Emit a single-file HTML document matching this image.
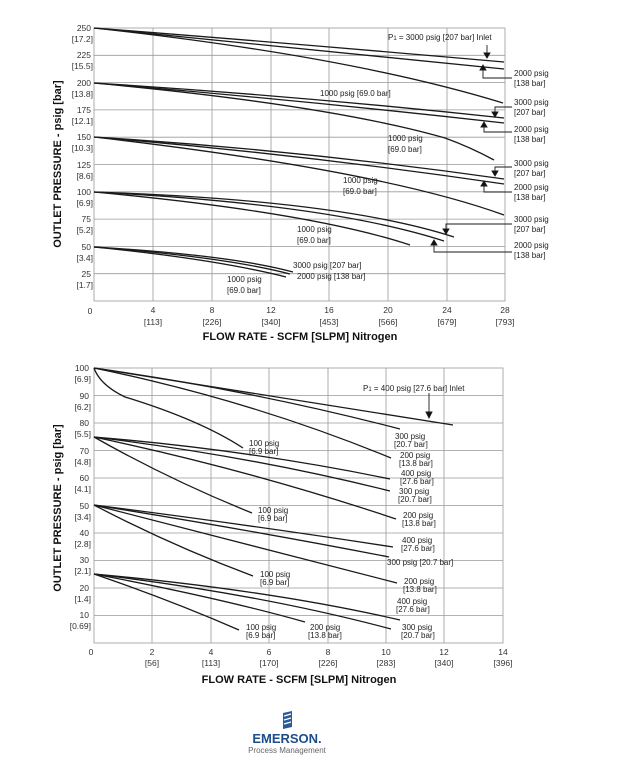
<!DOCTYPE html>
<html><head><style>
html,body{margin:0;padding:0;background:#fff;}
svg{display:block;font-family:"Liberation Sans",Arial,sans-serif;}
.g{stroke:#9a9a9a;stroke-width:0.8;fill:none}
.c{stroke:#1a1a1a;stroke-width:1.3;fill:none}
.a{stroke:#1a1a1a;stroke-width:0.9;fill:none}
.t{font-size:8.5px;fill:#333}
.l{font-size:8px;fill:#222}
.ti{font-size:11px;font-weight:bold;fill:#111}
</style></head><body>
<svg width="628" height="763" viewBox="0 0 628 763">
<defs><marker id="ar" markerWidth="6" markerHeight="6" refX="3" refY="5" orient="auto"><path d="M0,0 L3,6 L6,0 Z" fill="#111" transform="rotate(0)"/></marker></defs>
<!-- Chart 1 grid -->
<g class="g">
<rect x="94" y="28" width="411" height="273"/>
<path d="M153,28V301M212,28V301M271,28V301M329,28V301M388,28V301M447,28V301"/>
<path d="M94,55.3H505M94,82.6H505M94,109.9H505M94,137.2H505M94,164.5H505M94,191.8H505M94,219.1H505M94,246.4H505M94,273.7H505"/>
</g>
<g class="t" text-anchor="end">
<text x="91" y="31">250</text><text x="93" y="42">[17.2]</text>
<text x="91" y="58">225</text><text x="93" y="69">[15.5]</text>
<text x="91" y="86">200</text><text x="93" y="97">[13.8]</text>
<text x="91" y="113">175</text><text x="93" y="124">[12.1]</text>
<text x="91" y="140">150</text><text x="93" y="151">[10.3]</text>
<text x="91" y="168">125</text><text x="93" y="179">[8.6]</text>
<text x="91" y="195">100</text><text x="93" y="206">[6.9]</text>
<text x="91" y="222">75</text><text x="93" y="233">[5.2]</text>
<text x="91" y="250">50</text><text x="93" y="261">[3.4]</text>
<text x="91" y="277">25</text><text x="93" y="288">[1.7]</text>
</g>
<g class="t" text-anchor="middle">
<text x="90" y="314">0</text>
<text x="153" y="313">4</text><text x="153" y="325">[113]</text>
<text x="212" y="313">8</text><text x="212" y="325">[226]</text>
<text x="271" y="313">12</text><text x="271" y="325">[340]</text>
<text x="329" y="313">16</text><text x="329" y="325">[453]</text>
<text x="388" y="313">20</text><text x="388" y="325">[566]</text>
<text x="447" y="313">24</text><text x="447" y="325">[679]</text>
<text x="505" y="313">28</text><text x="505" y="325">[793]</text>
</g>
<text class="ti" x="300" y="340" text-anchor="middle">FLOW RATE - SCFM [SLPM] Nitrogen</text>
<text class="ti" transform="translate(61,164) rotate(-90)" text-anchor="middle">OUTLET PRESSURE - psig [bar]</text>
<!-- Chart 1 curves -->
<g class="c">
<path d="M94,28 Q300,44 504,62"/>
<path d="M94,28 Q300,48 504,69"/>
<path d="M94,28 Q350,56 503,103"/>
<path d="M94,83 Q300,96 504,118"/>
<path d="M94,83 Q300,100 504,123"/>
<path d="M94,83 Q330,105 445,138 Q470,147 494,160"/>
<path d="M94,137 Q300,150 504,179"/>
<path d="M94,137 Q300,154 504,184"/>
<path d="M94,137 Q380,170 504,215"/>
<path d="M94,192 Q340,200 454,237"/>
<path d="M94,192 Q330,204 444,241"/>
<path d="M94,192 Q310,212 410,245"/>
<path d="M94,247 Q230,255 293,272"/>
<path d="M94,247 Q225,257 290,274"/>
<path d="M94,247 Q215,259 286,277"/>
</g>
<g class="a">
<path d="M487,45V57"/><path d="M484,53L487,58L490,53Z" fill="#111"/>
<path d="M512,78H483V66"/><path d="M480,70L483,65L486,70Z" fill="#111"/>
<path d="M512,107H495V117"/><path d="M492,112L495,117L498,112Z" fill="#111"/>
<path d="M512,132H484V122"/><path d="M481,127L484,122L487,127Z" fill="#111"/>
<path d="M512,167H495V176"/><path d="M492,171L495,176L498,171Z" fill="#111"/>
<path d="M512,192H484V181"/><path d="M481,186L484,181L487,186Z" fill="#111"/>
<path d="M512,224H446V234"/><path d="M443,229L446,234L449,229Z" fill="#111"/>
<path d="M512,252H434V240"/><path d="M431,245L434,240L437,245Z" fill="#111"/>
</g>
<g class="l">
<text x="388" y="40">P<tspan font-size="6">1</tspan> = 3000 psig [207 bar] Inlet</text>
<text x="514" y="76">2000 psig</text><text x="514" y="86">[138 bar]</text>
<text x="514" y="105">3000 psig</text><text x="514" y="115">[207 bar]</text>
<text x="514" y="132">2000 psig</text><text x="514" y="142">[138 bar]</text>
<text x="514" y="166">3000 psig</text><text x="514" y="176">[207 bar]</text>
<text x="514" y="190">2000 psig</text><text x="514" y="200">[138 bar]</text>
<text x="514" y="222">3000 psig</text><text x="514" y="232">[207 bar]</text>
<text x="514" y="248">2000 psig</text><text x="514" y="258">[138 bar]</text>
<text x="320" y="96">1000 psig [69.0 bar]</text>
<text x="388" y="141">1000 psig</text><text x="388" y="152">[69.0 bar]</text>
<text x="343" y="183">1000 psig</text><text x="343" y="194">[69.0 bar]</text>
<text x="297" y="232">1000 psig</text><text x="297" y="243">[69.0 bar]</text>
<text x="293" y="268">3000 psig [207 bar]</text>
<text x="297" y="279">2000 psig [138 bar]</text>
<text x="227" y="282">1000 psig</text><text x="227" y="293">[69.0 bar]</text>
</g>

<!-- Chart 2 grid -->
<g class="g">
<rect x="94" y="368" width="409" height="275"/>
<path d="M152,368V643M211,368V643M269,368V643M328,368V643M386,368V643M444,368V643"/>
<path d="M94,395.5H503M94,423H503M94,450.5H503M94,478H503M94,505.5H503M94,533H503M94,560.5H503M94,588H503M94,615.5H503"/>
</g>
<g class="t" text-anchor="end">
<text x="89" y="371">100</text><text x="91" y="382">[6.9]</text>
<text x="89" y="399">90</text><text x="91" y="410">[6.2]</text>
<text x="89" y="426">80</text><text x="91" y="437">[5.5]</text>
<text x="89" y="454">70</text><text x="91" y="465">[4.8]</text>
<text x="89" y="481">60</text><text x="91" y="492">[4.1]</text>
<text x="89" y="509">50</text><text x="91" y="520">[3.4]</text>
<text x="89" y="536">40</text><text x="91" y="547">[2.8]</text>
<text x="89" y="563">30</text><text x="91" y="574">[2.1]</text>
<text x="89" y="591">20</text><text x="91" y="602">[1.4]</text>
<text x="89" y="618">10</text><text x="91" y="629">[0.69]</text>
</g>
<g class="t" text-anchor="middle">
<text x="91" y="655">0</text>
<text x="152" y="655">2</text><text x="152" y="666">[56]</text>
<text x="211" y="655">4</text><text x="211" y="666">[113]</text>
<text x="269" y="655">6</text><text x="269" y="666">[170]</text>
<text x="328" y="655">8</text><text x="328" y="666">[226]</text>
<text x="386" y="655">10</text><text x="386" y="666">[283]</text>
<text x="444" y="655">12</text><text x="444" y="666">[340]</text>
<text x="503" y="655">14</text><text x="503" y="666">[396]</text>
</g>
<text class="ti" x="299" y="683" text-anchor="middle">FLOW RATE - SCFM [SLPM] Nitrogen</text>
<text class="ti" transform="translate(61,508) rotate(-90)" text-anchor="middle">OUTLET PRESSURE - psig [bar]</text>
<g class="c">
<path d="M94,368 L453,425"/>
<path d="M94,368 Q250,390 400,429"/>
<path d="M94,368 Q250,400 391,458"/>
<path d="M94,368 Q100,385 125,397 Q200,420 243,448"/>
<path d="M94,437 Q250,450 390,479"/>
<path d="M94,437 Q250,456 390,491"/>
<path d="M94,437 Q250,470 396,519"/>
<path d="M94,437 Q170,480 252,513"/>
<path d="M94,505 Q250,525 393,547"/>
<path d="M94,505 Q250,530 389,557"/>
<path d="M94,505 Q250,545 397,583"/>
<path d="M94,505 Q170,545 253,576"/>
<path d="M94,574 Q270,590 400,620"/>
<path d="M94,574 Q260,594 391,629"/>
<path d="M94,574 Q220,598 305,622"/>
<path d="M94,574 Q170,600 239,630"/>
</g>
<g class="a"><path d="M429,393V417"/><path d="M426,412L429,418L432,412Z" fill="#111"/></g>
<g class="l">
<text x="363" y="391">P<tspan font-size="6">1</tspan> = 400 psig [27.6 bar] Inlet</text>
<text x="395" y="439">300 psig</text><text x="394" y="447">[20.7 bar]</text>
<text x="400" y="458">200 psig</text><text x="399" y="466">[13.8 bar]</text>
<text x="249" y="446">100 psig</text><text x="249" y="454">[6.9 bar]</text>
<text x="401" y="476">400 psig</text><text x="400" y="484">[27.6 bar]</text>
<text x="399" y="494">300 psig</text><text x="398" y="502">[20.7 bar]</text>
<text x="258" y="513">100 psig</text><text x="258" y="521">[6.9 bar]</text>
<text x="403" y="518">200 psig</text><text x="402" y="526">[13.8 bar]</text>
<text x="402" y="543">400 psig</text><text x="401" y="551">[27.6 bar]</text>
<text x="387" y="565">300 psig [20.7 bar]</text>
<text x="260" y="577">100 psig</text><text x="260" y="585">[6.9 bar]</text>
<text x="404" y="584">200 psig</text><text x="403" y="592">[13.8 bar]</text>
<text x="397" y="604">400 psig</text><text x="396" y="612">[27.6 bar]</text>
<text x="246" y="630">100 psig</text><text x="246" y="638">[6.9 bar]</text>
<text x="310" y="630">200 psig</text><text x="308" y="638">[13.8 bar]</text>
<text x="402" y="630">300 psig</text><text x="401" y="638">[20.7 bar]</text>
</g>
<!-- Logo -->
<g>
<path d="M283,713 L292,711 L292,727 L283,729 Z" fill="#2a5a9a"/>
<path d="M284,716 L291,714 M284,720 L291,718 M284,724 L291,722" stroke="#fff" stroke-width="1.3"/>
<text x="287" y="743" text-anchor="middle" font-size="13" font-weight="bold" fill="#1d4e8c">EMERSON.</text>
<text x="287" y="753" text-anchor="middle" font-size="8" fill="#666">Process Management</text>
</g>
</svg>
</body></html>
